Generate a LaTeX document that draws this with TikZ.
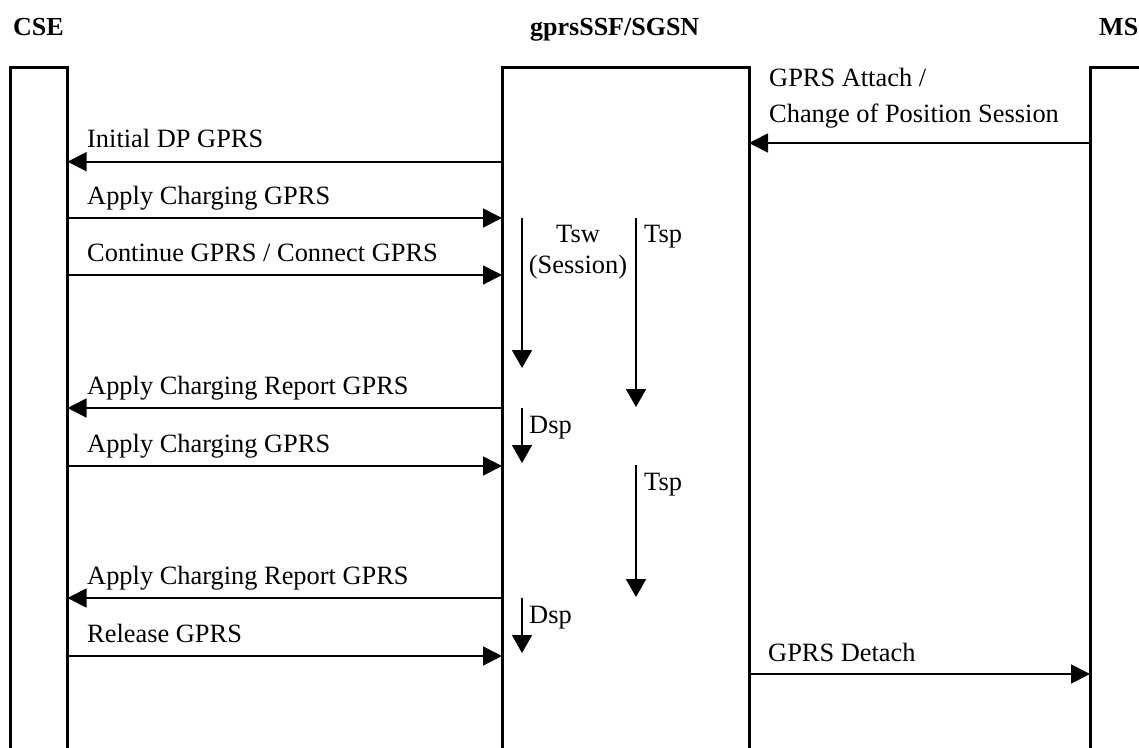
\documentclass[tikz,border=0pt]{standalone}
\usepackage{fontspec}
\setmainfont{Liberation Serif}
\usetikzlibrary{arrows.meta}
\begin{document}
\begin{tikzpicture}[x=1pt,y=-1pt,
  bar/.style={line width=3pt,line join=miter},
  msg/.style={line width=1.7pt,-{Triangle[length=19pt,width=19pt]}},
  tmr/.style={line width=1.7pt,-{Triangle[length=18pt,width=20pt]}},
  lbl/.style={font=\fontsize{26.4pt}{30pt}\selectfont,inner sep=0pt,anchor=base west},
  clbl/.style={font=\fontsize{26.4pt}{30pt}\selectfont,inner sep=0pt,anchor=base},
  hdr/.style={font=\fontsize{26pt}{30pt}\selectfont\bfseries,inner sep=0pt,anchor=base west}]
\useasboundingbox (0,0) rectangle (1139,747);
% headers
\node[hdr] (hcse) at (13,35) {CSE};
\node[hdr] (hssf) at (530,35) {gprsSSF/SGSN};
\node[hdr] (hms) at (1099,35) {MS};
% bars
\draw[bar] (10.5,749) -- (10.5,67) -- (67.5,67) -- (67.5,749);
\draw[bar] (502,749) -- (502,67) -- (749,67) -- (749,749);
\draw[bar] (1090,749) -- (1090,67) -- (1145,67);
% bar edges
\coordinate (cse) at (67.5,0);
\coordinate (ssfL) at (502,0);
\coordinate (ssfR) at (749,0);
\coordinate (ms) at (1090,0);
% rows
\coordinate (rA) at (0,143);
\coordinate (r1) at (0,161.7);
\coordinate (r2) at (0,218);
\coordinate (r3) at (0,275);
\coordinate (r4) at (0,408);
\coordinate (r5) at (0,466);
\coordinate (r6) at (0,598);
\coordinate (r7) at (0,656);
\coordinate (rD) at (0,674);
% messages
\draw[msg] (ms |- rA) -- (ssfR |- rA);
\node[lbl] (lA1) at (769,86) {GPRS Attach /};
\node[lbl] (lA2) at (769,122) {Change of Position Session};
\draw[msg] (ssfL |- r1) -- (cse |- r1);
\node[lbl] (l1) at (87,147.7) {Initial DP GPRS};
\draw[msg] (cse |- r2) -- (ssfL |- r2);
\node[lbl] (l2) at (87,204) {Apply Charging GPRS};
\draw[msg] (cse |- r3) -- (ssfL |- r3);
\node[lbl] (l3) at (87,261) {Continue GPRS / Connect GPRS};
\draw[msg] (ssfL |- r4) -- (cse |- r4);
\node[lbl] (l4) at (87,394) {Apply Charging Report GPRS};
\draw[msg] (cse |- r5) -- (ssfL |- r5);
\node[lbl] (l5) at (87,452) {Apply Charging GPRS};
\draw[msg] (ssfL |- r6) -- (cse |- r6);
\node[lbl] (l6) at (87,584) {Apply Charging Report GPRS};
\draw[msg] (cse |- r7) -- (ssfL |- r7);
\node[lbl] (l7) at (87,642) {Release GPRS};
\draw[msg] (ssfR |- rD) -- (ms |- rD);
\node[lbl] (lD) at (768,661) {GPRS Detach};
% timers
\coordinate (tswS) at (522,218);
\coordinate (tswE) at (522,368);
\coordinate (tsp1S) at (636,218);
\coordinate (tsp1E) at (636,407);
\coordinate (dsp1S) at (522,408);
\coordinate (dsp1E) at (522,463);
\coordinate (tsp2S) at (636,465);
\coordinate (tsp2E) at (636,597);
\coordinate (dsp2S) at (522,598);
\coordinate (dsp2E) at (522,653);
\draw[tmr] (tswS) -- (tswE);
\node[clbl] (ltsw) at (578,242) {Tsw};
\node[clbl] (lses) at (578,273) {(Session)};
\draw[tmr] (tsp1S) -- (tsp1E);
\node[lbl] (ltsp1) at (644,242) {Tsp};
\draw[tmr] (dsp1S) -- (dsp1E);
\node[lbl] (ldsp1) at (529,433) {Dsp};
\draw[tmr] (tsp2S) -- (tsp2E);
\node[lbl] (ltsp2) at (644,490) {Tsp};
\draw[tmr] (dsp2S) -- (dsp2E);
\node[lbl] (ldsp2) at (529,623) {Dsp};
\end{tikzpicture}
\end{document}
